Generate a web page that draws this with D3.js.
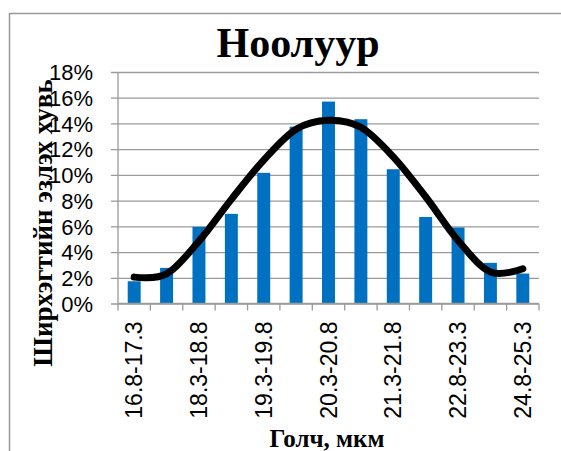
<!DOCTYPE html>
<html>
<head>
<meta charset="utf-8">
<script src="https://cdn.jsdelivr.net/npm/d3@7"></script>
<style>
  body { margin: 0; background: #fff; }
  #chart { width: 561px; height: 451px; }
</style>
</head>
<body>
<div id="chart"></div>
<script>
const WIDTH = 561;
const HEIGHT = 451;

const PLOT = {
  LEFT: 118,
  RIGHT: 539,
  TOP: 72,
  BOTTOM: 303.5,
};

const categories = [
  "16.8-17.3", "17.3-18.3", "18.3-18.8", "18.8-19.3", "19.3-19.8",
  "19.8-20.3", "20.3-20.8", "20.8-21.3", "21.3-21.8", "21.8-22.8",
  "22.8-23.3", "23.3-24.8", "24.8-25.3",
];
// share of fibres, %
const barValues = [1.73, 2.77, 5.96, 6.97, 10.16, 13.75, 15.7, 14.33, 10.44, 6.73, 5.91, 3.16, 2.33];
// fitted curve, %
const curveValues = [2.05, 2.3, 4.85, 8.1, 11.15, 13.55, 14.25, 13.7, 11.4, 8.3, 4.9, 2.45, 2.7];
const yTicks = [0, 2, 4, 6, 8, 10, 12, 14, 16, 18];

const title = "Ноолуур";
const xTitle = "Голч, мкм";
const yTitle = "Ширхэгтийн эзлэх хувь";

const svg = d3
  .select("#chart")
  .append("svg")
  .attr("width", WIDTH)
  .attr("height", HEIGHT);

// chart frame
svg
  .append("rect")
  .attr("x", 9.5)
  .attr("y", 13.5)
  .attr("width", 600)
  .attr("height", 500)
  .style("fill", "none")
  .style("stroke", "#9a9a9a")
  .style("stroke-width", "1.5px");

const x = d3
  .scaleBand()
  .domain(categories)
  .range([PLOT.LEFT, PLOT.RIGHT])
  .paddingInner(0.6)
  .paddingOuter(0.3);

const xCat = d3
  .scaleBand()
  .domain(categories)
  .range([PLOT.LEFT, PLOT.RIGHT]);

const y = d3
  .scaleLinear()
  .domain([0, 18])
  .range([PLOT.BOTTOM, PLOT.TOP]);

// gridlines + y axis
const yAxis = svg
  .append("g")
  .attr("class", "yAxis")
  .attr("transform", `translate(${PLOT.LEFT}, 0)`)
  .call(
    d3.axisLeft(y)
      .tickValues(yTicks)
      .tickSize(-(PLOT.RIGHT - PLOT.LEFT))
      .tickFormat((d) => d + "%")
  )
  .call((g) => g.select(".domain").remove());

yAxis
  .selectAll(".tick line")
  .attr("x1", -7)
  .style("stroke", "#9a9a9a")
  .style("stroke-width", "1.3px");

yAxis
  .selectAll(".tick text")
  .attr("x", -25)
  .attr("dy", "0.35em")
  .style("font-family", "'Liberation Sans', Arial, sans-serif")
  .style("font-size", "22px")
  .style("fill", "#000");

// vertical axis line
svg
  .append("line")
  .attr("x1", PLOT.LEFT)
  .attr("x2", PLOT.LEFT)
  .attr("y1", PLOT.TOP)
  .attr("y2", PLOT.BOTTOM)
  .style("stroke", "#9a9a9a")
  .style("stroke-width", "1.3px");

// bars
svg
  .selectAll(".bar")
  .data(barValues)
  .enter()
  .append("rect")
  .attr("class", "bar")
  .attr("x", (d, i) => x(categories[i]))
  .attr("y", (d) => y(d))
  .attr("width", x.bandwidth())
  .attr("height", (d) => PLOT.BOTTOM - y(d))
  .style("fill", "#0070c0");

// x axis line + ticks at category boundaries
svg
  .append("line")
  .attr("x1", PLOT.LEFT)
  .attr("x2", PLOT.RIGHT)
  .attr("y1", PLOT.BOTTOM)
  .attr("y2", PLOT.BOTTOM)
  .style("stroke", "#9a9a9a")
  .style("stroke-width", "1.3px");

const boundaries = categories.map((d) => xCat(d)).concat([PLOT.RIGHT]);
svg
  .selectAll(".xtick")
  .data(boundaries)
  .enter()
  .append("line")
  .attr("class", "xtick")
  .attr("x1", (d) => d)
  .attr("x2", (d) => d)
  .attr("y1", PLOT.BOTTOM)
  .attr("y2", PLOT.BOTTOM + 7)
  .style("stroke", "#9a9a9a")
  .style("stroke-width", "1.3px");

// x labels, every other category
const xAxis = svg
  .append("g")
  .attr("class", "xAxis")
  .attr("transform", `translate(0, ${PLOT.BOTTOM})`)
  .call(
    d3.axisBottom(xCat)
      .tickValues(categories.filter((d, i) => i % 2 === 0))
      .tickSize(0)
  )
  .call((g) => g.select(".domain").remove());

xAxis
  .selectAll(".tick text")
  .attr("transform", "rotate(-90)")
  .attr("x", -18)
  .attr("y", 0)
  .attr("dy", "0.35em")
  .attr("text-anchor", "end")
  .style("font-family", "'Liberation Sans', Arial, sans-serif")
  .style("font-size", "23px")
  .style("fill", "#000");

// smoothed curve
const line = d3
  .line()
  .x((d, i) => xCat(categories[i]) + xCat.bandwidth() / 2)
  .y((d) => y(d))
  .curve(d3.curveCardinal.tension(0));

svg
  .append("path")
  .datum(curveValues)
  .attr("d", line)
  .style("fill", "none")
  .style("stroke", "#000")
  .style("stroke-width", "7px")
  .style("stroke-linecap", "round");

// titles
svg
  .append("text")
  .attr("x", 298)
  .attr("y", 57)
  .attr("text-anchor", "middle")
  .style("font-family", "'Liberation Serif', 'Times New Roman', serif")
  .style("font-weight", "bold")
  .style("font-size", "42px")
  .text(title);

svg
  .append("text")
  .attr("x", 327)
  .attr("y", 447)
  .attr("text-anchor", "middle")
  .style("font-family", "'Liberation Serif', 'Times New Roman', serif")
  .style("font-weight", "bold")
  .style("font-size", "25px")
  .text(xTitle);

svg
  .append("text")
  .attr("transform", "translate(52, 223) rotate(-90)")
  .attr("text-anchor", "middle")
  .style("font-family", "'Liberation Serif', 'Times New Roman', serif")
  .style("font-weight", "bold")
  .style("font-size", "27px")
  .text(yTitle);
</script>
</body>
</html>
